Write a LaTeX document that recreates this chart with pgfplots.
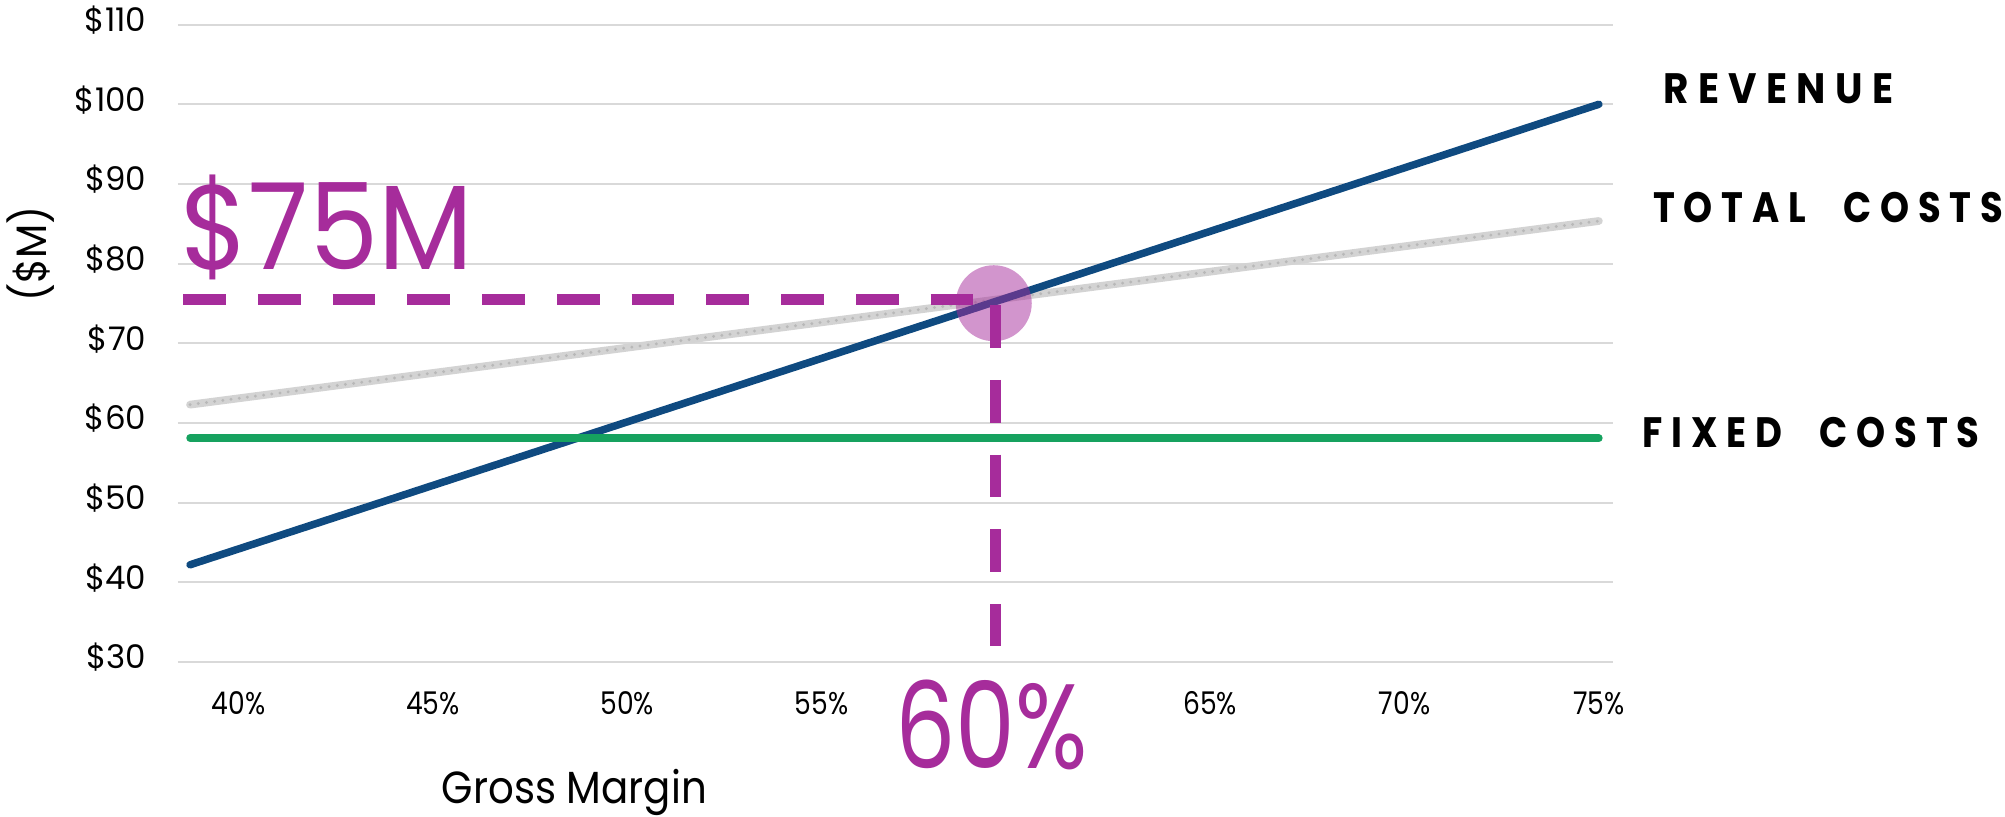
\documentclass[border=0pt]{standalone}
\usepackage{fontspec}
\setmainfont{Poppins}
\newfontfamily\condfont[FakeStretch=0.85]{Poppins}
\newfontfamily\labfont[LetterSpace=24]{Poppins}
\usepackage{graphicx}
\usepackage{pgfplots}
\pgfplotsset{compat=1.18}
\definecolor{rev}{HTML}{0F4A80}
\definecolor{fixc}{HTML}{16A25F}
\definecolor{totc}{HTML}{D3D3D3}
\definecolor{totd}{HTML}{B8B8B8}
\definecolor{mag}{HTML}{A62C9B}
\definecolor{gridc}{HTML}{D9D9D9}
\begin{document}
\begin{tikzpicture}
\begin{axis}[
  scale only axis, width=574.1pt, height=254.96pt,
  xmin=38.44, xmax=75.37, ymin=30, ymax=110,
  axis line style={draw=none},
  major tick length=0pt,
  xtick={40,45,50,55,65,70,75},
  xticklabels={40\%,45\%,50\%,55\%,65\%,70\%,75\%},
  ytick={30,40,...,110},
  yticklabels={\$30,\$40,\$50,\$60,\$70,\$80,\$90,\$100,\$110},
  ymajorgrids, grid style={gridc, line width=0.8pt},
  xticklabel style={font=\condfont\fontsize{12.5}{15}\selectfont, anchor=base, yshift=-20.8pt, inner sep=0pt},
  yticklabel style={font=\fontsize{13}{15}\selectfont, anchor=mid east, inner sep=0pt, xshift=-12.5pt},
  clip=false,
]
% total costs
\addplot[totc, line width=3.1pt, line cap=round] coordinates {(38.75,62.3) (75,85.35)};
\addplot[totd, line width=1.3pt, line cap=round, dash pattern=on 0pt off 3.3pt] coordinates {(38.75,62.3) (75,85.35)};
% revenue
\addplot[rev, line width=3pt, line cap=round] coordinates {(38.75,42.2) (75,100)};
% fixed costs
\addplot[fixc, line width=3pt, line cap=round] coordinates {(38.75,58.1) (75,58.1)};
% break-even circle
\addplot[only marks, mark=*, mark size=15.2pt, draw=none, fill=mag, fill opacity=0.5, mark options={draw=none, draw opacity=0, fill=mag, fill opacity=0.5}] coordinates {(59.43,75.03)};
% dashed guides
\addplot[mag, line width=4.3pt, dash pattern=on 17.1pt off 12.8pt] coordinates {(38.57,75.53) (58.9,75.53)};
\addplot[mag, line width=4.3pt, dash pattern=on 17.1pt off 12.8pt] coordinates {(59.47,74.8) (59.47,31.98)};

\node[anchor=base west, inner sep=0pt, text=mag, font=\fontsize{48}{48}\selectfont] at (axis cs:38.49,79.28) {\resizebox{117pt}{\height}{\$75M}};
\node[anchor=base, inner sep=0pt, text=mag, font=\fontsize{48}{48}\selectfont] at (axis cs:59.37,16.67) {\resizebox{77pt}{\height}{60\%}};
\node[anchor=base, inner sep=0pt, font=\fontsize{18}{18}\selectfont] at (axis cs:48.64,12.3) {\resizebox{106pt}{\height}{Gross Margin}};
\node[rotate=90, inner sep=0pt, font=\fontsize{17}{17}\selectfont] at (axis cs:34.64,81.2) {\resizebox{38pt}{\height}{(\$M)}};

\node[anchor=base west, inner sep=0pt, font=\labfont\bfseries\fontsize{17}{17}\selectfont] at (axis cs:76.65,100.12) {\resizebox{92pt}{\height}{REVENUE}};
\node[anchor=base west, inner sep=0pt, font=\labfont\bfseries\fontsize{17}{17}\selectfont] at (axis cs:76.38,85.13) {\resizebox{140pt}{\height}{TOTAL\hspace{1em}COSTS}};
\node[anchor=base west, inner sep=0pt, font=\labfont\bfseries\fontsize{17}{17}\selectfont] at (axis cs:76.1,56.93) {\resizebox{135pt}{\height}{FIXED\hspace{1em}COSTS}};
\end{axis}
\pgfresetboundingbox
\path[use as bounding box] ([xshift=-71.2pt,yshift=-61.6pt]current axis.south west) rectangle ([xshift=156.7pt,yshift=9.84pt]current axis.north east);
\end{tikzpicture}
\end{document}
